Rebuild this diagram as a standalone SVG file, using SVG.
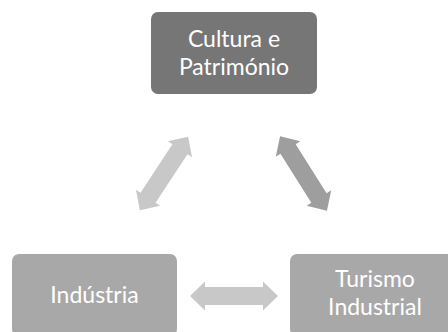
<svg xmlns="http://www.w3.org/2000/svg" width="448" height="332" viewBox="0 0 448 332">
  <style>
    .lbl { font-family: Lato, "Open Sans", "Liberation Sans", sans-serif; font-size: 23px; fill: #ffffff; text-anchor: middle; }
    .dark { fill: #767676; }
    .mid { fill: #a8a8a8; }
    .light { fill: #c8c8c8; }
    .darkarrow { fill: #9e9e9e; }
  </style>
  <defs>
    <path id="dblarrow" d="M -44 0 L -29 -14.5 L -29 -9 L 29 -9 L 29 -14.5 L 44 0 L 29 14.5 L 29 9 L -29 9 L -29 14.5 Z"/>
  </defs>
  <rect width="448" height="332" fill="#ffffff"/>
  <g id="connectors">
    <use href="#dblarrow" class="light" transform="translate(164 173.5) rotate(-56.7)"/>
    <use href="#dblarrow" class="darkarrow" transform="translate(303.5 173.5) rotate(57.8)"/>
    <use href="#dblarrow" class="light" transform="translate(234 296)"/>
  </g>
  <g id="cultura">
    <rect class="dark" x="151" y="12" width="166" height="82" rx="7"/>
    <text class="lbl" x="234" y="47">Cultura e</text>
    <text class="lbl" x="234" y="75">Património</text>
  </g>
  <g id="industria">
    <rect class="mid" x="12" y="254" width="165" height="82" rx="7"/>
    <text class="lbl" x="94.5" y="303">Indústria</text>
  </g>
  <g id="turismo">
    <rect class="mid" x="290" y="254" width="166" height="82" rx="7"/>
    <text class="lbl" x="375" y="287">Turismo</text>
    <text class="lbl" x="375" y="315">Industrial</text>
  </g>
</svg>
